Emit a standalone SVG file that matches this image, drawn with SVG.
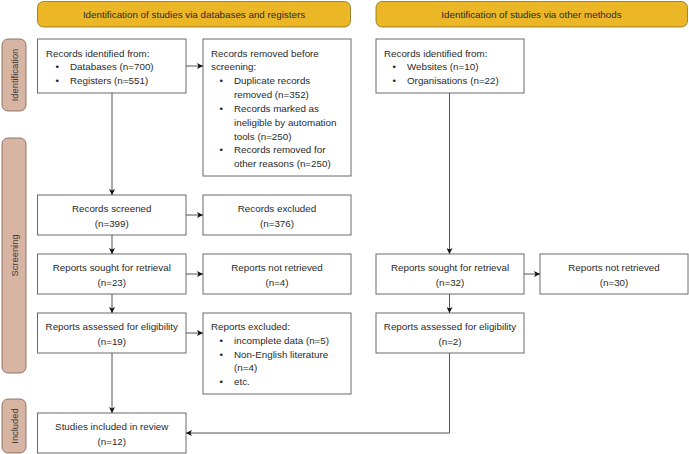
<svg xmlns="http://www.w3.org/2000/svg" width="689" height="454" viewBox="0 0 689 454">
<defs>
<marker id="ah" viewBox="0 0 10 10" refX="10" refY="5" markerWidth="6" markerHeight="6" markerUnits="userSpaceOnUse" orient="auto">
<path d="M0,0 L10,5 L0,10 L2.5,5 Z" fill="#111"/>
</marker>
<style>
.hdr{fill:#ECB726;stroke:#8c6d1c;stroke-width:0.8}
.side{fill:#D8B4A3;stroke:#7a5e52;stroke-width:0.8}
.box{fill:#fff;stroke:#6b6b6b;stroke-width:1}
text{font-family:"Liberation Sans",Arial,Helvetica,sans-serif;font-size:9.8px;fill:#2a2a2a}
.c{text-anchor:middle}
.conn path{fill:none;stroke:#555;stroke-width:1}
.sidet{font-size:9.4px;text-anchor:middle;fill:#3a3a3a}
</style>
</defs>
<rect width="689" height="454" fill="#fff"/>

<g id="hdr-left"><rect class="hdr" x="37.5" y="1.5" width="313" height="25.5" rx="6"/><text class="c" x="194" y="18">Identification of studies via databases and registers</text></g>
<g id="hdr-right"><rect class="hdr" x="376" y="1.5" width="311.5" height="25.5" rx="6"/><text class="c" x="531.5" y="18">Identification of studies via other methods</text></g>

<g id="side-ident"><rect class="side" x="2" y="39" width="24" height="72" rx="6"/><text class="sidet" transform="translate(17.5,75) rotate(-90)">Identification</text></g>
<g id="side-screen"><rect class="side" x="2" y="138" width="24" height="235" rx="6"/><text class="sidet" transform="translate(17.5,255.5) rotate(-90)">Screening</text></g>
<g id="side-incl"><rect class="side" x="2" y="399" width="24" height="54" rx="6"/><text class="sidet" transform="translate(17.5,426) rotate(-90)">Included</text></g>

<g id="n-ident-db"><rect class="box" x="37.5" y="39" width="148.5" height="54"/>
<text x="46" y="56.5">Records identified from:</text>
<text x="55.5" y="70">•</text><text x="70" y="70">Databases (n=700)</text>
<text x="55.5" y="84">•</text><text x="70" y="84">Registers (n=551)</text></g>

<g id="n-removed"><rect class="box" x="203" y="39" width="148" height="137"/>
<text x="211" y="56.5">Records removed before</text>
<text x="211" y="70">screening:</text>
<text x="219.5" y="84">•</text><text x="234" y="84">Duplicate records</text>
<text x="234" y="98">removed (n=352)</text>
<text x="219.5" y="111.5">•</text><text x="234" y="111.5">Records marked as</text>
<text x="234" y="125.5">ineligible by automation</text>
<text x="234" y="139.5">tools (n=250)</text>
<text x="219.5" y="153">•</text><text x="234" y="153">Records removed for</text>
<text x="234" y="167">other reasons (n=250)</text></g>

<g id="n-ident-other"><rect class="box" x="376" y="39" width="148" height="54"/>
<text x="384" y="56.5">Records identified from:</text>
<text x="392.5" y="70">•</text><text x="407" y="70">Websites (n=10)</text>
<text x="392.5" y="84">•</text><text x="407" y="84">Organisations (n=22)</text></g>

<g id="n-screened"><rect class="box" x="37.5" y="195" width="148.5" height="40"/>
<text class="c" x="111.75" y="211.5">Records screened</text><text class="c" x="111.75" y="226.5">(n=399)</text></g>
<g id="n-excluded"><rect class="box" x="203" y="195" width="148" height="40"/>
<text class="c" x="277" y="211.5">Records excluded</text><text class="c" x="277" y="226.5">(n=376)</text></g>

<g id="n-sought"><rect class="box" x="37.5" y="254" width="148.5" height="40"/>
<text class="c" x="111.75" y="270.5">Reports sought for retrieval</text><text class="c" x="111.75" y="285.5">(n=23)</text></g>
<g id="n-notret"><rect class="box" x="203" y="254" width="148" height="40"/>
<text class="c" x="277" y="270.5">Reports not retrieved</text><text class="c" x="277" y="285.5">(n=4)</text></g>

<g id="n-sought-o"><rect class="box" x="376" y="254" width="148" height="40"/>
<text class="c" x="450" y="270.5">Reports sought for retrieval</text><text class="c" x="450" y="285.5">(n=32)</text></g>
<g id="n-notret-o"><rect class="box" x="540" y="254" width="148" height="40"/>
<text class="c" x="614" y="270.5">Reports not retrieved</text><text class="c" x="614" y="285.5">(n=30)</text></g>

<g id="n-assessed"><rect class="box" x="37.5" y="313" width="148.5" height="40"/>
<text class="c" x="111.75" y="329.5">Reports assessed for eligibility</text><text class="c" x="111.75" y="344.5">(n=19)</text></g>
<g id="n-repexcl"><rect class="box" x="203" y="313" width="148" height="81"/>
<text x="211" y="329.5">Reports excluded:</text>
<text x="219.5" y="343.5">•</text><text x="234" y="343.5">incomplete data (n=5)</text>
<text x="219.5" y="357.5">•</text><text x="234" y="357.5">Non-English literature</text>
<text x="234" y="371">(n=4)</text>
<text x="219.5" y="385">•</text><text x="234" y="385">etc.</text></g>

<g id="n-assessed-o"><rect class="box" x="376" y="313" width="148" height="40"/>
<text class="c" x="450" y="329.5">Reports assessed for eligibility</text><text class="c" x="450" y="344.5">(n=2)</text></g>

<g id="n-included"><rect class="box" x="37.5" y="413" width="148.5" height="40"/>
<text class="c" x="111.75" y="429.5">Studies included in review</text><text class="c" x="111.75" y="444.5">(n=12)</text></g>

<g class="conn" id="connectors">
<path d="M112,93 V195" marker-end="url(#ah)"/>
<path d="M186,66 H203" marker-end="url(#ah)"/>
<path d="M186,215 H203" marker-end="url(#ah)"/>
<path d="M112,235 V254" marker-end="url(#ah)"/>
<path d="M186,274 H203" marker-end="url(#ah)"/>
<path d="M112,294 V313" marker-end="url(#ah)"/>
<path d="M186,333 H203" marker-end="url(#ah)"/>
<path d="M112,353 V413" marker-end="url(#ah)"/>
<path d="M449.5,93 V254" marker-end="url(#ah)"/>
<path d="M524,274 H540" marker-end="url(#ah)"/>
<path d="M449.5,294 V313" marker-end="url(#ah)"/>
<path d="M449.5,353 V433 H186" marker-end="url(#ah)"/>
</g>
</svg>
